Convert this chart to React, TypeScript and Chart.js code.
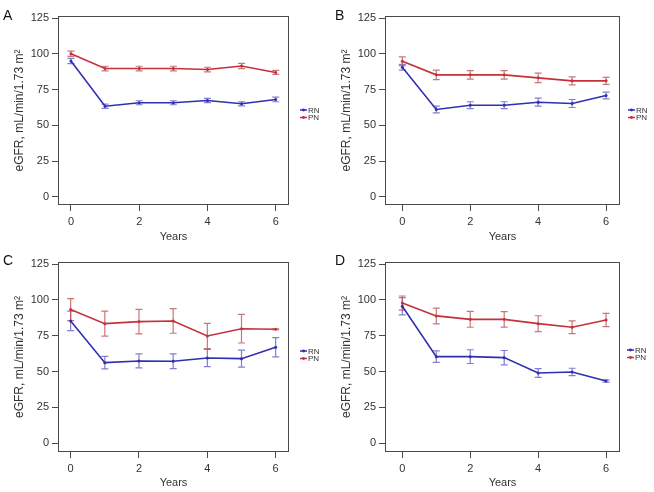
import React, { useEffect, useRef } from "react";
import { Chart, registerables } from "chart.js";

Chart.register(...registerables);

// ---------------- data ----------------
const years = [0, 1, 2, 3, 4, 5, 6];
const xTickValues = [0, 2, 4, 6];
const yTickValues = [0, 25, 50, 75, 100, 125];
const seriesNames = ["RN", "PN"];
const panelLetters = ["A", "B", "C", "D"];
const xTitle = "Years";
const yTitle = "eGFR, mL/min/1.73 m\u00b2";

const rnA = [95, 63.4, 65.8, 65.8, 67.4, 65.1, 68.1];
const rnErrA = [1.8, 1.5, 1.4, 1.4, 1.5, 1.4, 1.6];
const pnA = [100, 89.7, 89.7, 89.7, 89, 91.5, 87];
const pnErrA = [1.8, 1.6, 1.6, 1.6, 1.6, 1.8, 1.4];

const rnB = [90.6, 61.1, 64.1, 64.1, 66.2, 65.3, 70.9];
const rnErrB = [2, 2.4, 2.4, 2.4, 2.8, 2.8, 2.4];
const pnB = [94.8, 85.3, 85.3, 85.3, 83.2, 81.1, 81.1];
const pnErrB = [3, 3.3, 3, 3, 3.3, 2.8, 2.5];

const rnC = [85.3, 56.2, 57.4, 57.2, 59.5, 59, 66.9];
const rnErrC = [6.8, 4.4, 4.9, 5.1, 6, 5.9, 6.7];
const pnC = [93.2, 83.4, 84.8, 85.3, 74.8, 79.9, 79.5];
const pnErrC = [7.7, 8.7, 8.5, 8.6, 8.8, 10, 0.3];

const rnD = [95.5, 60.4, 60.4, 59.7, 49, 49.7, 43.4];
const rnErrD = [6, 4, 4.8, 5, 3, 2.6, 0.8];
const pnD = [97.8, 88.8, 86.4, 86.4, 83.4, 80.9, 86];
const pnErrD = [4.9, 5.5, 5.5, 5.4, 5.5, 4.5, 4.6];

// ---------------- styles / layout ----------------
const FONT = "'Liberation Sans', Arial, Helvetica, sans-serif";
const BLUE = "#2f2fb0";
const RED = "#c4313a";
const BLUE_ERR = "rgba(95,95,200,0.8)";
const RED_ERR = "rgba(185,85,85,0.8)";
const AXIS = "#4a4a4a";
const TEXT = "#333333";
const W = 327;
const H = 246;

type Layout = {
  left: number; top: number;
  areaLeft: number; areaTop: number; areaRight: number; areaBottom: number;
  xMin: number; xMax: number; yMin: number; yMax: number;
  letterX: number; letterY: number;
  legendX: number; legendY: number;
};

const layouts: Layout[] = [
  { left: 0, top: 0, areaLeft: 58, areaTop: 16, areaRight: 289, areaBottom: 205,
    xMin: -0.38, xMax: 6.39, yMin: -5.6, yMax: 126.4, letterX: 3, letterY: 20, legendX: 300, legendY: 110 },
  { left: 327, top: 0, areaLeft: 58, areaTop: 16, areaRight: 293, areaBottom: 205,
    xMin: -0.51, xMax: 6.41, yMin: -5.6, yMax: 126.4, letterX: 8, letterY: 20, legendX: 301, legendY: 110 },
  { left: 0, top: 246, areaLeft: 58, areaTop: 16, areaRight: 289, areaBottom: 206,
    xMin: -0.37, xMax: 6.39, yMin: -6.1, yMax: 126.4, letterX: 3, letterY: 19, legendX: 300, legendY: 105 },
  { left: 327, top: 246, areaLeft: 58, areaTop: 16, areaRight: 293, areaBottom: 206,
    xMin: -0.51, xMax: 6.41, yMin: -6.1, yMax: 126.4, letterX: 8, letterY: 19, legendX: 300, legendY: 104 },
];

const panelData = [
  { rn: rnA, rnErr: rnErrA, pn: pnA, pnErr: pnErrA },
  { rn: rnB, rnErr: rnErrB, pn: pnB, pnErr: pnErrB },
  { rn: rnC, rnErr: rnErrC, pn: pnC, pnErr: pnErrC },
  { rn: rnD, rnErr: rnErrD, pn: pnD, pnErr: pnErrD },
];

function Panel({ idx }: { idx: number }) {
  const ref = useRef<HTMLCanvasElement | null>(null);
  useEffect(() => {
    const L = layouts[idx];
    const d = panelData[idx];
    const errs = [d.rnErr, d.pnErr];
    const errColors = [BLUE_ERR, RED_ERR];
    const lineColors = [BLUE, RED];

    const decor = {
      id: "decor",
      beforeDatasetsDraw(chart: any) {
        const ctx = chart.ctx;
        const xs = chart.scales.x;
        const ys = chart.scales.y;
        ctx.save();
        chart.data.datasets.forEach((ds: any, di: number) => {
          ctx.strokeStyle = errColors[di];
          ctx.lineWidth = 1.2;
          ds.data.forEach((p: any, i: number) => {
            const e = errs[di][i];
            const px = xs.getPixelForValue(p.x);
            const y1 = ys.getPixelForValue(p.y - e);
            const y2 = ys.getPixelForValue(p.y + e);
            const cw = 3.5;
            ctx.beginPath();
            ctx.moveTo(px, y1); ctx.lineTo(px, y2);
            ctx.moveTo(px - cw, y1); ctx.lineTo(px + cw, y1);
            ctx.moveTo(px - cw, y2); ctx.lineTo(px + cw, y2);
            ctx.stroke();
          });
        });
        ctx.restore();
      },
      afterDraw(chart: any) {
        const ctx = chart.ctx;
        const a = chart.chartArea;
        ctx.save();
        ctx.strokeStyle = AXIS;
        ctx.lineWidth = 1;
        ctx.strokeRect(a.left + 0.5, a.top + 0.5, a.right - a.left - 1, a.bottom - a.top - 1);
        // panel letter
        ctx.fillStyle = "#111";
        ctx.font = `14px ${FONT}`;
        ctx.textBaseline = "alphabetic";
        ctx.textAlign = "left";
        ctx.fillText(panelLetters[idx], L.letterX, L.letterY);
        // legend
        ctx.font = `8px ${FONT}`;
        ctx.textBaseline = "middle";
        seriesNames.forEach((name, i) => {
          const y = L.legendY + i * 7.5;
          ctx.strokeStyle = lineColors[i];
          ctx.fillStyle = lineColors[i];
          ctx.lineWidth = 1.5;
          ctx.beginPath();
          ctx.moveTo(L.legendX, y); ctx.lineTo(L.legendX + 7, y);
          ctx.stroke();
          ctx.beginPath();
          ctx.arc(L.legendX + 3.5, y, 1.4, 0, Math.PI * 2);
          ctx.fill();
          ctx.fillStyle = TEXT;
          ctx.fillText(name, L.legendX + 8, y + 0.5);
        });
        ctx.restore();
      },
    };

    const mk = (vals: number[], color: string, label: string) => ({
      label,
      data: years.map((x, i) => ({ x, y: vals[i] })),
      borderColor: color,
      backgroundColor: color,
      borderWidth: 1.6,
      pointRadius: 1.5,
      pointBorderWidth: 0,
      tension: 0,
    });

    const tickFont = { family: FONT, size: 11 };
    const chart = new Chart(ref.current as HTMLCanvasElement, {
      type: "line",
      data: { datasets: [mk(d.rn, BLUE, seriesNames[0]), mk(d.pn, RED, seriesNames[1])] },
      options: {
        animation: false,
        responsive: false,
        maintainAspectRatio: false,
        layout: { padding: { left: 0, top: L.areaTop, right: W - L.areaRight, bottom: 0 } },
        plugins: { legend: { display: false }, tooltip: { enabled: false } },
        scales: {
          x: {
            type: "linear",
            min: L.xMin,
            max: L.xMax,
            afterBuildTicks: (s: any) => { s.ticks = xTickValues.map((v) => ({ value: v })); },
            afterFit: (s: any) => { s.height = H - L.areaBottom; },
            grid: { drawOnChartArea: false, drawTicks: true, tickLength: 6, color: AXIS, lineWidth: 1 },
            border: { display: false },
            ticks: { font: tickFont, color: TEXT, padding: 4, maxRotation: 0, autoSkip: false },
            title: { display: true, text: xTitle, font: tickFont, color: TEXT, padding: { top: 0, bottom: 2 } },
          },
          y: {
            type: "linear",
            min: L.yMin,
            max: L.yMax,
            afterBuildTicks: (s: any) => { s.ticks = yTickValues.map((v) => ({ value: v })); },
            afterFit: (s: any) => { s.width = L.areaLeft; },
            grid: { drawOnChartArea: false, drawTicks: true, tickLength: 6, color: AXIS, lineWidth: 1 },
            border: { display: false },
            ticks: { font: tickFont, color: TEXT, padding: 3, autoSkip: false },
            title: { display: true, text: yTitle, font: { family: FONT, size: 12 }, color: TEXT, padding: { top: 12, bottom: 0 } },
          },
        },
      } as any,
      plugins: [decor],
    });
    return () => chart.destroy();
  }, [idx]);

  const L = layouts[idx];
  return (
    <canvas
      ref={ref}
      width={W}
      height={H}
      style={{ position: "absolute", left: L.left, top: L.top, width: W, height: H }}
    />
  );
}

export default function App() {
  return (
    <div style={{ position: "absolute", left: 0, top: 0, width: 654, height: 492, background: "#fff" }}>
      {[0, 1, 2, 3].map((i) => (
        <Panel key={i} idx={i} />
      ))}
    </div>
  );
}
